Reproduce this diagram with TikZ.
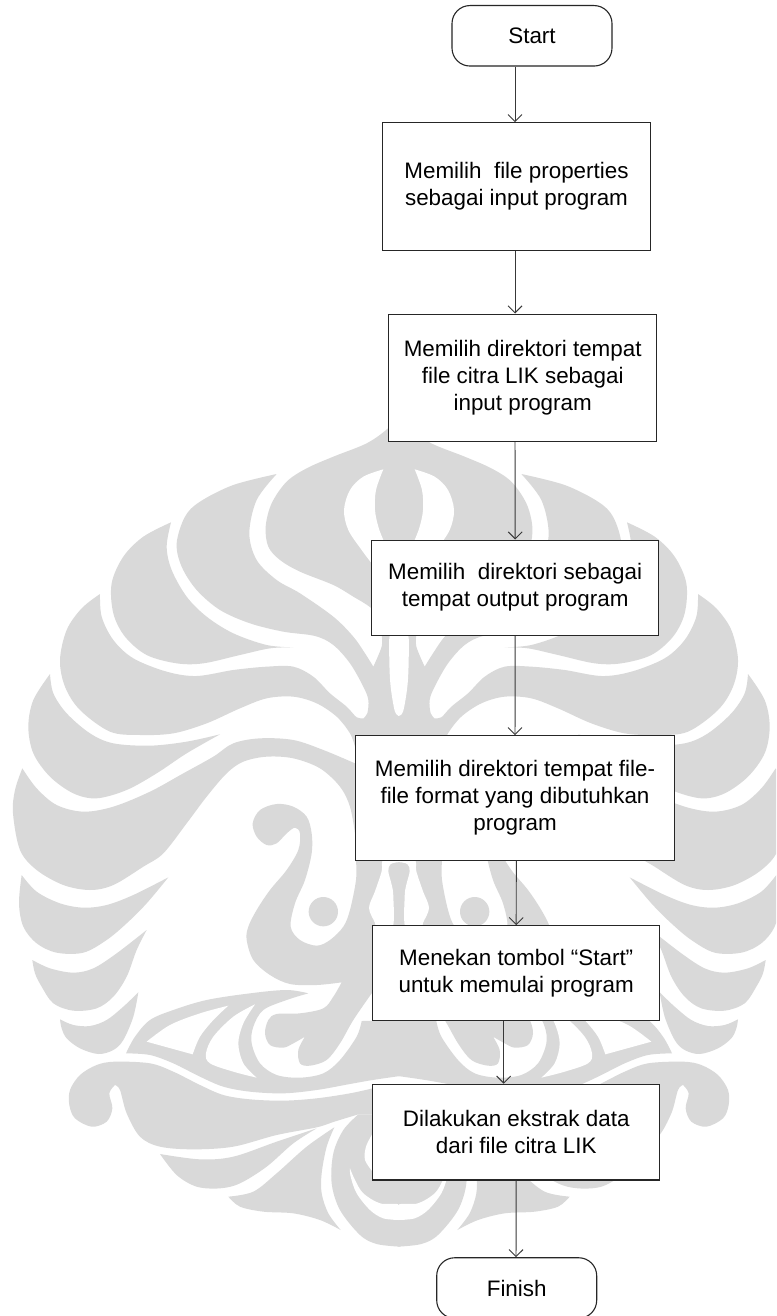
\documentclass[tikz,border=0pt]{standalone}
\usepackage{fontspec}
\setmainfont{Liberation Sans}
\usetikzlibrary{arrows.meta}
\tikzset{
  stepbox/.style={
    draw=black!85,
    fill=white,
    line width=1.1pt,
    inner sep=0pt,
    font=\fontsize{22.4}{27}\selectfont,
    align=center
  },
  endbox/.style={stepbox, rounded corners=18pt, minimum width=160pt, minimum height=60.5pt},
  flow/.style={draw=black!78, line width=0.95pt, -{Straight Barb[length=7pt,width=14pt]}},
  wmark/.style={fill=black!15},
  wcut/.style={fill=white},
  wrun/.style={smooth,tension=.55},
}
% a shape whose outline is two smooth runs meeting at sharp corners
\newcommand{\WmLens}[3]{%
  \fill[#1] plot[wrun] coordinates {#2} -- plot[wrun] coordinates {#3} -- cycle;
}
% left half of the background emblem
\newcommand{\WmHalf}{%
  \begin{scope}[shift={(0,400)},x=0.33333pt,y=-0.33333pt]
    % dome
    \fill[wmark] plot[wrun] coordinates {(1200,40) (1164,85) (1100,130) (1000,170) (920,205) (860,245) (815,310) (797,380) (805,440) (840,480) (900,515) (1000,555) (1060,590) (1115,625) (1200,700)} -- cycle;
    % upper lobes
    \fill[wmark] plot[wrun] coordinates {(830,222) (700,255) (600,305) (555,350) (530,430) (545,500) (590,570) (660,630) (750,670) (850,695) (945,708) (1000,735) (1050,790) (1090,860) (1105,900) (1102,940) (1090,955)} -- (1200,1010) -- (1200,700) -- (1145,705) -- plot[wrun] coordinates {(1145,705) (1145,740) (1120,800)} -- plot[wrun] coordinates {(1120,800) (1095,760) (1060,710) (1000,650) (900,580) (830,540) (770,480) (748,400) (770,300) (830,222)} -- cycle;
    \WmLens{wmark}{(513,367) (430,410) (370,470) (335,550) (340,640) (375,710) (440,765) (530,790) (610,790) (720,765) (810,745) (880,742)}{(880,742) (800,735) (700,700) (620,650) (560,590) (515,510) (500,440) (513,367)}
    \fill[wmark] plot[wrun] coordinates {(300,582) (245,625) (200,690) (180,780) (195,860) (240,930) (330,995) (420,1005) (520,1000) (620,970) (720,925) (800,895) (880,890) (950,910) (1010,950) (1050,1000) (1065,1040)} -- (1200,1040) -- (1200,960) -- (1090,955) -- plot[wrun] coordinates {(1090,955) (1070,952) (1040,920) (990,880) (940,830) (880,800) (800,800) (700,810) (590,828) (500,815) (400,775) (340,720) (305,650) (300,582)} -- cycle;
    \WmLens{wmark}{(150,822) (100,900) (85,980) (100,1060) (150,1130) (220,1180) (290,1195) (380,1170) (470,1120) (560,1060) (660,1003)}{(660,1003) (560,1025) (450,1037) (340,1030) (270,1000) (200,940) (160,880) (150,822)}
    % openings
    \WmLens{wcut}{(1150,208) (1090,230) (1050,270) (1032,330) (1045,390) (1085,450) (1115,490)}{(1115,490) (1180,490) (1150,420) (1135,380) (1125,330) (1128,270) (1150,208)}
    \WmLens{wcut}{(1200,700) (1170,705) (1168,780) (1172,860) (1185,935) (1200,948)}{(1200,948) (1200,700)}
  \end{scope}
  \begin{scope}[shift={(0,780)},x=0.33333pt,y=-0.33333pt]
    % wide lobe and its band
    \fill[wmark] plot[wrun] coordinates {(67,-35) (110,25) (170,75) (250,95) (340,80) (450,35) (550,-20) (640,-70) (700,-110) (780,-125) (880,-120) (970,-90) (1065,-50)} -- (1110,-50) -- (1110,160) -- (1065,160) -- plot[wrun] coordinates {(1065,160) (1050,80) (1020,20) (960,-35) (880,-65) (800,-70) (730,-55) (680,-20) (620,50) (560,130) (490,220) (430,260) (340,315) (270,330) (190,315) (110,270) (60,210) (39,100) (45,30) (67,-35)} -- cycle;
    \WmLens{wmark}{(65,285) (110,335) (180,370) (250,383) (320,375) (400,345) (505,292)}{(505,292) (440,370) (380,430) (320,480) (250,518) (170,518) (110,490) (70,440) (57,370) (65,285)}
    \WmLens{wmark}{(97,540) (150,565) (220,578) (280,565) (350,520) (440,450)}{(440,450) (410,510) (380,590) (340,650) (290,685) (220,692) (160,670) (125,620) (105,580) (97,540)}
    \WmLens{wmark}{(180,718) (220,735) (270,738) (320,720) (370,680) (415,637)}{(415,637) (400,710) (370,780) (340,810) (295,822) (240,805) (200,775) (185,745) (180,718)}
    % hook, with its tail under the middle boxes
    \fill[wmark] (1200,100) -- (1068,100) -- plot[wrun] coordinates {(1068,240) (1068,300) (1050,390) (1030,440) (990,480) (950,497) (900,480) (872,440) (885,370) (915,300) (935,220) (935,160) (920,110) (880,80) (830,72) (780,90) (758,130) (770,170) (800,195) (830,190) (860,160) (885,143) (900,160) (895,210) (860,270) (810,330) (770,390) (745,440) (740,480) (760,540) (810,585) (870,612) (950,615) (1025,607)} -- plot[wrun] coordinates {(1025,607) (1000,650) (970,685) (900,700) (830,702) (805,720) (795,760) (810,795) (850,803) (880,790) (915,770)} -- plot[wrun] coordinates {(915,770) (895,810) (900,850) (930,857) (980,840) (1020,790) (1060,720) (1115,640)} -- (1200,640) -- cycle;
    \fill[wmark] (970,395) circle[radius=44];
    % wing
    \fill[wmark] plot[wrun] coordinates {(925,640) (860,630) (750,640) (620,660) (520,690) (450,720) (405,770) (378,820)} -- plot[wrun] coordinates {(378,820) (450,825) (520,850) (600,890) (670,920) (750,935) (850,940) (950,930) (1050,912) (1118,900) (1200,888)} -- (1200,722) -- (1085,723) -- plot[wrun] coordinates {(1085,723) (1070,770) (1020,840) (970,880) (900,893) (830,885) (780,850) (755,790) (760,740) (790,690) (860,660) (925,640)} -- cycle;
    \fill[wcut] plot[wrun] coordinates {(685,677) (600,700) (510,735) (440,785)} -- (578,823) -- plot[wrun] coordinates {(578,823) (600,770) (640,720) (685,677)} -- cycle;
    \WmLens{wcut}{(765,673) (700,710) (640,770) (618,820) (630,850) (700,875) (770,893)}{(770,893) (730,850) (715,790) (730,730) (765,673)}
    % scroll
    \fill[wmark] (1200,915) -- (1118,925) -- plot[wrun] coordinates {(1118,925) (1050,940) (950,955) (850,962) (750,958) (670,945) (600,915) (520,875) (450,850) (345,845) (290,855) (240,885) (210,930) (208,975) (225,1015) (275,1040) (320,1025) (337,985) (328,940) (345,915)} -- plot[wrun] coordinates {(345,915) (360,930) (380,1000) (420,1070) (480,1100) (580,1108) (700,1100) (830,1065) (950,1042) (1003,1025) (1075,1003)} -- (1200,1003) -- cycle;
    \WmLens{wmark}{(480,1122) (600,1138) (700,1130) (830,1085) (950,1045)}{(950,1045) (880,1090) (800,1160) (720,1210) (660,1225) (590,1220) (530,1185) (480,1122)}
    \fill[wmark] plot[wrun] coordinates {(1003,1042) (920,1100) (830,1180) (760,1235) (685,1250)} -- plot[wrun] coordinates {(685,1250) (720,1280) (790,1295) (880,1300) (960,1320) (1022,1350)} -- plot[wrun] coordinates {(1022,1350) (985,1300) (965,1240) (965,1180) (980,1100) (1003,1042)} -- cycle;
    \fill[wmark] plot[wrun] coordinates {(1075,1003) (1030,1050) (1000,1120) (995,1210) (1020,1290) (1080,1365) (1130,1392) (1200,1400)} -- (1200,1003) -- cycle;
    % openings
    \WmLens{wcut}{(1200,240) (1150,240) (1145,274) (1125,334) (1107,384) (1125,429) (1125,445)}{(1125,445) (1177,445) (1180,350) (1175,314) (1165,274) (1172,252) (1200,246)}
    \WmLens{wcut}{(1118,1060) (1098,1100) (1095,1140) (1118,1175)}{(1118,1175) (1150,1120) (1118,1060)}
    \WmLens{wcut}{(1050,1165) (1052,1190) (1070,1240) (1110,1290) (1150,1315) (1200,1320)}{(1200,1320) (1200,1275) (1140,1270) (1090,1240) (1065,1200) (1050,1165)}
  \end{scope}
}

\begin{document}
\begin{tikzpicture}[x=1pt,y=-1pt]
  \useasboundingbox (0,0) rectangle (776,1316);
  \clip (0,0) rectangle (776,1316);
  \fill[white] (0,0) rectangle (776,1316);
  \WmHalf
  \begin{scope}[shift={(798,0)},xscale=-1]
    \WmHalf
  \end{scope}

  \node[endbox] (startbox) at (532,35.8) {Start};
  \node[stepbox, minimum width=268.4pt, minimum height=127.3pt] (propbox) at (516.5,186.4)
    {Memilih\ \ file properties\\sebagai input program};
  \node[stepbox, minimum width=268pt, minimum height=127.3pt] (citrabox) at (522.7,377.7)
    {Memilih direktori tempat\\file citra LIK sebagai\\input program};
  \node[stepbox, minimum width=287pt, minimum height=95.3pt] (outbox) at (515.2,587.7)
    {Memilih\ \ direktori sebagai\\tempat output program};
  \node[stepbox, minimum width=318.6pt, minimum height=124.3pt] (fmtbox) at (515,797.9)
    {Memilih direktori tempat file-\\file format yang dibutuhkan\\program};
  \node[stepbox, minimum width=287pt, minimum height=95pt] (tombolbox) at (516.2,973.2)
    {Menekan tombol “Start”\\untuk memulai program};
  \node[stepbox, minimum width=287pt, minimum height=95.7pt] (ekstrakbox) at (516.2,1132.1)
    {Dilakukan ekstrak data\\dari file citra LIK};
  \node[endbox] (finishbox) at (516.7,1288) {Finish};

  \draw[flow] ([xshift=-17pt]startbox.south) -- ([xshift=-1.5pt]propbox.north);
  \draw[flow] ([xshift=-1.5pt]propbox.south) -- ([xshift=-7.7pt]citrabox.north);
  \draw[flow] ([xshift=-7.7pt]citrabox.south) -- (outbox.north);
  \draw[flow] (outbox.south) -- (fmtbox.north);
  \draw[flow] ([xshift=1.3pt]fmtbox.south) -- (tombolbox.north);
  \draw[flow] ([xshift=-12.5pt]tombolbox.south) -- ([xshift=-12.5pt]ekstrakbox.north);
  \draw[flow] (ekstrakbox.south) -- ([xshift=-0.7pt]finishbox.north);
\end{tikzpicture}
\end{document}
